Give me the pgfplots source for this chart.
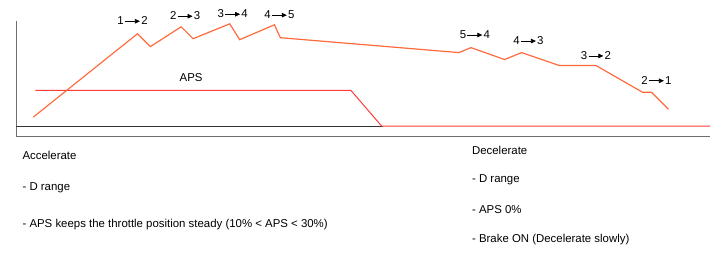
\documentclass[border=0pt]{standalone}
\usepackage{fontspec}
\setmainfont{Liberation Sans}
\usepackage{pgfplots}
\pgfplotsset{compat=1.18}
\usetikzlibrary{arrows.meta}
\definecolor{speedc}{HTML}{FF6A3D}
\definecolor{apsc}{HTML}{FF3A3A}
\definecolor{axgray}{HTML}{6E6E6E}
\newsavebox\arrbox
\begin{document}
\sbox\arrbox{\tikz[baseline=-3.6bp]\draw[line width=0.6bp,-{Triangle[length=5bp,width=4.5bp]}](0,0)--(15bp,0);}
\newcommand\ar[2]{#1\hspace{1bp}\usebox\arrbox\hspace{1bp}#2}
\begin{tikzpicture}[every node/.style={font=\fontsize{11.5bp}{13bp}\selectfont, inner sep=0pt}]
\begin{axis}[scale only axis, width=720bp, height=257bp,
  xmin=0, xmax=720, ymin=0, ymax=257, y dir=reverse,
  axis lines=none, ticks=none, clip=false]
% axis frame lines
\draw[axgray, line width=1.3bp] (axis cs:11,21) -- (axis cs:11,138);
\draw[axgray, line width=1.5bp] (axis cs:10.4,137.5) -- (axis cs:710,137.5);
\draw[black!80, line width=1bp] (axis cs:11,127) -- (axis cs:380,127);
% APS
\addplot[draw=apsc, line width=1bp] coordinates {(30,91) (348,91) (379,127) (710,127)};
% vehicle speed
\addplot[draw=speedc, line width=1.2bp] coordinates {
 (28,118) (133,34) (146,47) (177,27) (189,39) (226,24) (236,40) (271,25) (277,38)
 (457,53) (469,48) (503,60) (520,53) (558,66) (595,66) (642,93) (651,93) (668,110)};
% labels
\node at (axis cs:128,21) {\ar{1}{2}};
\node at (axis cs:181,16) {\ar{2}{3}};
\node at (axis cs:229,14) {\ar{3}{4}};
\node at (axis cs:276,15) {\ar{4}{5}};
\node at (axis cs:473,35) {\ar{5}{4}};
\node at (axis cs:527,41) {\ar{4}{3}};
\node at (axis cs:595,56) {\ar{3}{2}};
\node at (axis cs:656,81) {\ar{2}{1}};
\node at (axis cs:187,78) {APS};
\node[anchor=base west] at (axis cs:17,161) {Accelerate};
\node[anchor=base west] at (axis cs:17,192) {- D range};
\node[anchor=base west] at (axis cs:17,229) {- APS keeps the throttle position steady (10\% < APS < 30\%)};
\node[anchor=base west] at (axis cs:470,156) {Decelerate};
\node[anchor=base west] at (axis cs:470,184) {- D range};
\node[anchor=base west] at (axis cs:470,215) {- APS 0\%};
\node[anchor=base west] at (axis cs:470,244) {- Brake ON (Decelerate slowly)};
\end{axis}
\pgfresetboundingbox
\useasboundingbox (current axis.south west) rectangle (current axis.north east);
\end{tikzpicture}
\end{document}
